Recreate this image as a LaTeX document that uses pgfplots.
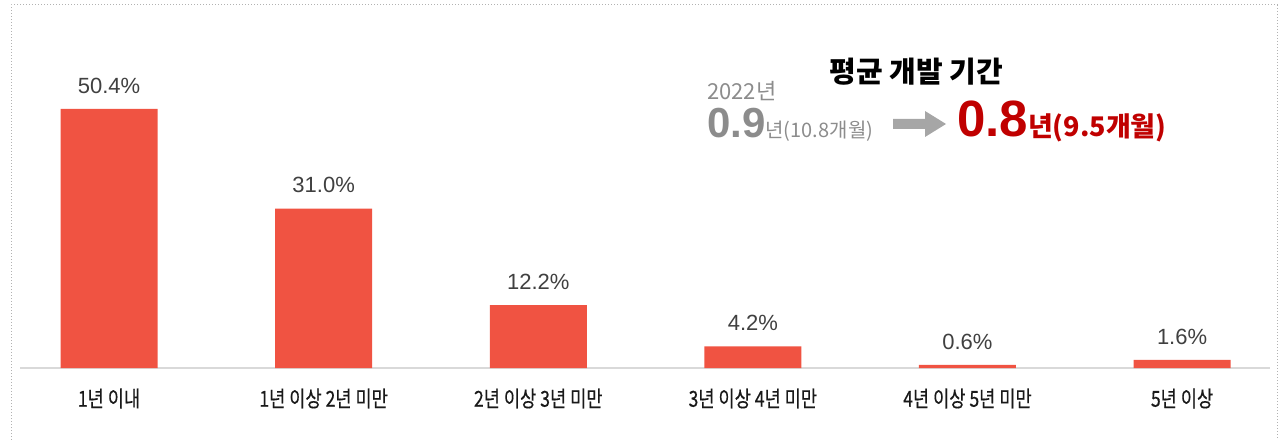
\documentclass[border=0pt]{standalone}
\usepackage{pgfplots}
\pgfplotsset{compat=1.18}
\usepackage{fontspec}
\setmainfont{Noto Sans CJK KR}
\newfontfamily\kr{Noto Sans CJK KR}
\newfontfamily\krc[FakeStretch=0.8,FakeBold=0.4]{Noto Sans CJK KR}
\newfontfamily\lat{Liberation Sans}
\definecolor{barred}{HTML}{F05342}
\definecolor{valgray}{HTML}{404040}
\definecolor{axgray}{HTML}{D9D9D9}
\definecolor{anngray}{HTML}{8C8C8C}
\definecolor{arrgray}{HTML}{A6A6A6}
\definecolor{darkred}{HTML}{C00000}
\begin{document}
\begin{tikzpicture}[x=1pt,y=1pt]
\useasboundingbox (0pt,0pt) rectangle (1281pt,439pt);
\draw[color=black!30, dotted, line width=1pt] (11pt,-10pt) rectangle (1277pt,434pt);
\begin{axis}[
  at={(20pt,71pt)}, anchor=south west,
  scale only axis, width=1250pt, height=358pt,
  xmin=-0.415, xmax=5.41, ymin=0, ymax=69.6,
  axis x line=bottom, axis y line=none,
  axis line style={-, draw=axgray, line width=1.2pt},
  ytick=\empty,
  xtick={0,1,2,3,4,5},
  xticklabels={1년 이내, 1년 이상 2년 미만, 2년 이상 3년 미만, 3년 이상 4년 미만, 4년 이상 5년 미만, 5년 이상},
  major tick length=0pt,
  xticklabel style={font=\krc\fontsize{22}{26}\selectfont, text=black!90, yshift=-17pt},
  ybar, bar width=97pt,
  nodes near coords={\pgfmathprintnumber[fixed,fixed zerofill,precision=1,assume math mode=true]{\pgfplotspointmeta}\%},
  nodes near coords style={font=\lat\fontsize{22}{24}\selectfont, text=valgray, yshift=12pt},
  clip=false,
]
\addplot[fill=barred, draw=none] coordinates {(0,50.4) (1,31.0) (2,12.2) (3,4.2) (4,0.6) (5,1.6)};
\end{axis}
% annotation
\node[anchor=base, font=\kr\bfseries\fontsize{29}{32}\selectfont, text=black] at (916pt,356pt) {평균 개발 기간};
\node[anchor=base west, inner sep=0pt, font=\kr\fontsize{22}{24}\selectfont, text=anngray] at (707pt,339pt) {2022년};
\node[anchor=base west, inner sep=0pt, text=anngray] at (707pt,301pt) {{\lat\bfseries\fontsize{42}{44}\selectfont 0.9}{\kr\fontsize{20}{24}\selectfont 년(10.8개월)}};
\fill[arrgray] (893pt,320pt) -- (925pt,320pt) -- (925pt,328pt) -- (946pt,315pt) -- (925pt,302pt) -- (925pt,310pt) -- (893pt,310pt) -- cycle;
\node[anchor=base west, inner sep=0pt, text=darkred] at (957pt,302pt) {{\lat\bfseries\fontsize{51}{54}\selectfont 0.8}{\kr\bfseries\fontsize{27}{30}\selectfont 년(9.5개월)}};
\end{tikzpicture}
\end{document}
